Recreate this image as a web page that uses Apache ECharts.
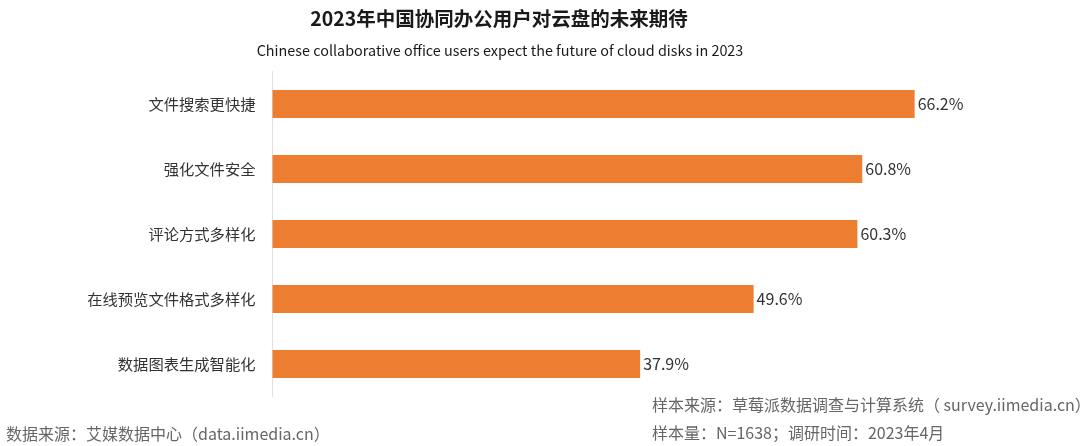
<!DOCTYPE html>
<html><head><meta charset="utf-8">
<script src="https://cdn.jsdelivr.net/npm/echarts@6/dist/echarts.min.js"></script>
<style>html,body{margin:0;padding:0;background:#fff}#c{width:1080px;height:446px}</style>
</head><body><div id="c"></div>
<script>
const categories = ['文件搜索更快捷','强化文件安全','评论方式多样化','在线预览文件格式多样化','数据图表生成智能化'];
const values = [66.2, 60.8, 60.3, 49.6, 37.9];
const titleText = '2023年中国协同办公用户对云盘的未来期待';
const subtitleText = 'Chinese collaborative office users expect the future of cloud disks in 2023';
const sourceText = '数据来源：艾媒数据中心（data.iimedia.cn）';
const sampleSource = '样本来源：草莓派数据调查与计算系统（ survey.iimedia.cn）';
const sampleInfo = '样本量：N=1638；调研时间：2023年4月';

const FONT = '"Noto Sans CJK SC","Noto Sans",sans-serif';
const chart = echarts.init(document.getElementById('c'));
chart.setOption({
  backgroundColor: '#fff',
  animation: false,
  textStyle: {fontFamily: FONT},
  title: [
    {text: titleText, left: 494, textAlign: 'center', top: 4,
     textStyle: {fontFamily: FONT, fontSize: 19.5, fontWeight: 'bold', color: '#1a1a1a'}},
    {text: subtitleText, left: 495, textAlign: 'center', top: 38,
     textStyle: {fontFamily: FONT, fontSize: 14.4, fontWeight: 'normal', color: '#1a1a1a'}}
  ],
  graphic: [
    {type: 'text', left: 6, top: 426, style: {text: sourceText, font: '16px ' + FONT, fill: '#666'}},
    {type: 'text', left: 652, top: 397, style: {text: sampleSource, font: '16px ' + FONT, fill: '#666'}},
    {type: 'text', left: 652, top: 425, style: {text: sampleInfo, font: '16px ' + FONT, fill: '#666'}}
  ],
  grid: {left: 272.5, right: 128.5, top: 71.5, bottom: 49.5, containLabel: false},
  xAxis: {type: 'value', min: 0, max: 70, show: false},
  yAxis: {
    type: 'category', inverse: true, data: categories,
    axisLine: {show: true, lineStyle: {color: '#e0e0e0', width: 1}},
    axisTick: {show: false},
    axisLabel: {fontFamily: FONT, fontSize: 15.3, color: '#333', margin: 17}
  },
  series: [{
    type: 'bar', data: values, barWidth: 28,
    itemStyle: {color: '#ED7D31'},
    label: {show: true, position: 'right', distance: 3, formatter: p => p.value.toFixed(1) + '%',
      fontFamily: FONT, fontSize: 16, color: '#333'}
  }]
});
</script></body></html>
